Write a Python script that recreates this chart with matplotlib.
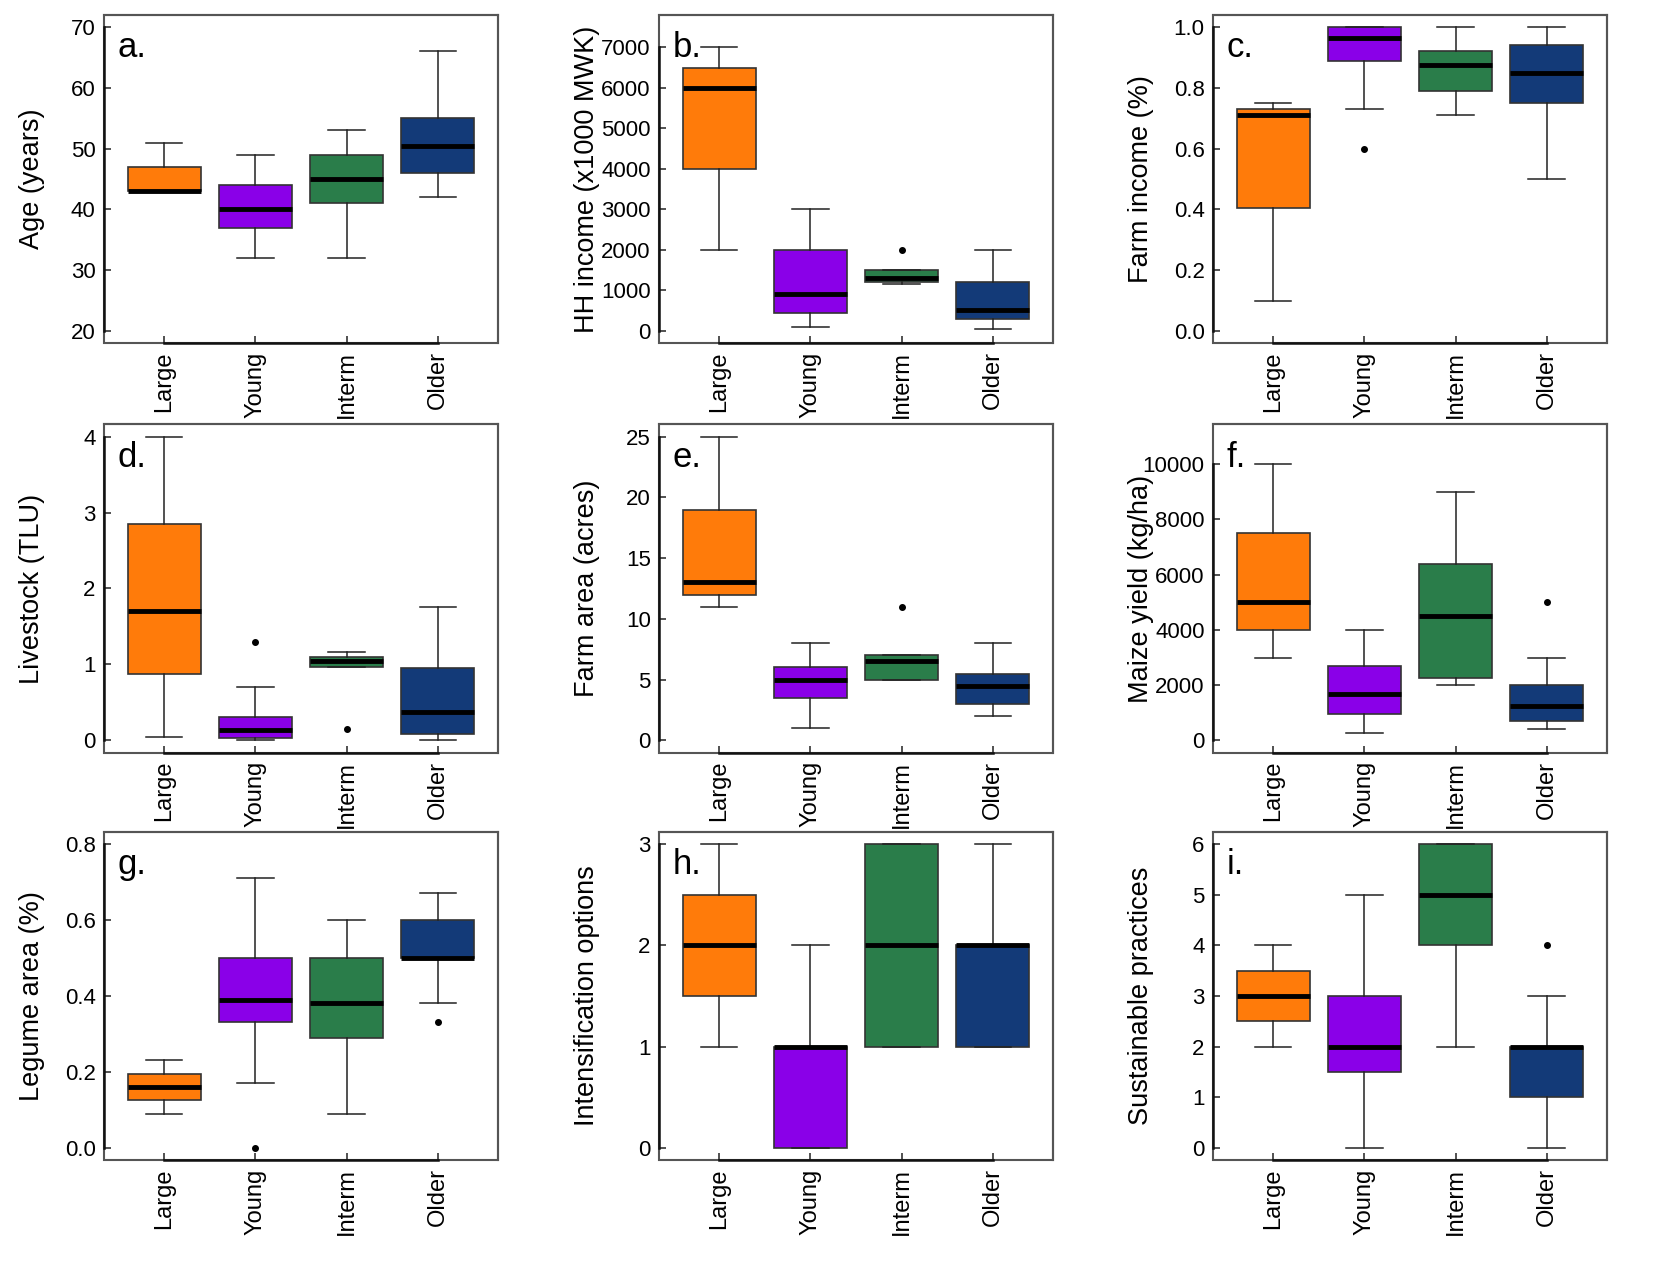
import matplotlib
matplotlib.use("Agg")
import matplotlib.pyplot as plt
import numpy as np

plt.rcParams['font.family'] = ['Liberation Sans', 'DejaVu Sans']

groups = ["Large", "Young", "Interm", "Older"]
colors = ["#FF7B0A", "#8A00E8", "#2A7D4A", "#133A78"]

# each row: whisker low, Q1, median, Q3, whisker high (per group)
age = [[43, 43, 43, 47, 51], [32, 37, 40, 44, 49], [32, 41, 45, 49, 53], [42, 46, 50.5, 55, 66]]
age_out = [[], [], [], []]
income = [[2000, 4000, 6000, 6500, 7000], [100, 450, 900, 2000, 3000],
          [1150, 1200, 1300, 1500, 1500], [50, 300, 520, 1200, 2000]]
income_out = [[], [], [2000], []]
farm_inc = [[0.10, 0.405, 0.71, 0.73, 0.75], [0.73, 0.89, 0.965, 1.0, 1.0],
            [0.71, 0.79, 0.875, 0.92, 1.0], [0.50, 0.75, 0.85, 0.94, 1.0]]
farm_inc_out = [[], [0.6], [], []]
livestock = [[0.05, 0.87, 1.70, 2.85, 4.0], [0.0, 0.03, 0.14, 0.31, 0.70],
             [0.97, 0.97, 1.05, 1.10, 1.17], [0.0, 0.08, 0.38, 0.95, 1.75]]
livestock_out = [[], [1.3], [0.15], []]
area = [[11, 12, 13, 19, 25], [1, 3.5, 5, 6, 8], [5, 5, 6.5, 7, 7], [2, 3, 4.5, 5.5, 8]]
area_out = [[], [], [11], []]
maize = [[3000, 4000, 5000, 7500, 10000], [250, 950, 1680, 2700, 4000],
         [2000, 2250, 4500, 6380, 9000], [400, 700, 1250, 2000, 3000]]
maize_out = [[], [], [], [5000]]
legume = [[0.09, 0.125, 0.16, 0.195, 0.23], [0.17, 0.33, 0.39, 0.50, 0.71],
          [0.09, 0.29, 0.38, 0.50, 0.60], [0.38, 0.50, 0.50, 0.60, 0.67]]
legume_out = [[], [0.0], [], [0.33]]
intens = [[1, 1.5, 2, 2.5, 3], [0, 0, 1, 1, 2], [1, 1, 2, 3, 3], [1, 1, 2, 2, 3]]
intens_out = [[], [], [], []]
sustain = [[2, 2.5, 3, 3.5, 4], [0, 1.5, 2, 3, 5], [2, 4, 5, 6, 6], [0, 1, 2, 2, 3]]
sustain_out = [[], [], [], [4]]

panels = [
    ("a.", "Age (years)", age, age_out, (20, 70), np.arange(20, 71, 10), "%d"),
    ("b.", "HH income (x1000 MWK)", income, income_out, (0, 7500), np.arange(0, 7001, 1000), "%d"),
    ("c.", "Farm income (%)", farm_inc, farm_inc_out, (0, 1), np.arange(0, 1.01, 0.2), "%.1f"),
    ("d.", "Livestock (TLU)", livestock, livestock_out, (0, 4), np.arange(0, 5, 1), "%d"),
    ("e.", "Farm area (acres)", area, area_out, (0, 25), np.arange(0, 26, 5), "%d"),
    ("f.", "Maize yield (kg/ha)", maize, maize_out, (0, 11000), np.arange(0, 10001, 2000), "%d"),
    ("g.", "Legume area (%)", legume, legume_out, (0, 0.8), np.arange(0, 0.81, 0.2), "%.1f"),
    ("h.", "Intensification options", intens, intens_out, (0, 3), np.arange(0, 4, 1), "%d"),
    ("i.", "Sustainable practices", sustain, sustain_out, (0, 6), np.arange(0, 7, 1), "%d"),
]

fig = plt.figure(figsize=(16.8, 12.8), dpi=100)
lefts = [0.0619, 0.3923, 0.7220]
bottoms = [0.732, 0.4121, 0.0938]
w, h = 0.2345, 0.2563
frame = "#555555"

for k, (letter, ylab, vals, outs, rng, ticks, fmt) in enumerate(panels):
    ax = fig.add_axes([lefts[k % 3], bottoms[k // 3], w, h])
    stats = []
    for v, o in zip(vals, outs):
        stats.append(dict(whislo=v[0], q1=v[1], med=v[2], q3=v[3], whishi=v[4], fliers=o))
    bp = ax.bxp(stats, positions=[1, 2, 3, 4], widths=0.8, patch_artist=True,
                boxprops=dict(edgecolor="#333333", linewidth=1.2),
                medianprops=dict(color="black", linewidth=3.5, solid_capstyle="butt"),
                whiskerprops=dict(color="#222222", linewidth=1.1),
                capprops=dict(color="#222222", linewidth=1.1),
                capwidths=0.4,
                flierprops=dict(marker="o", markersize=4, markerfacecolor="black",
                                markeredgecolor="black"))
    for patch, c in zip(bp["boxes"], colors):
        patch.set_facecolor(c)

    pad = (rng[1] - rng[0]) * 0.04
    ax.set_ylim(rng[0] - pad, rng[1] + pad)
    ax.set_xlim(0.34, 4.66)
    ax.set_yticks(ticks)
    ax.set_yticklabels([fmt % t for t in ticks])
    ax.set_xticks([1, 2, 3, 4])
    ax.set_xticklabels(groups, rotation=90)
    ax.tick_params(axis="both", direction="in", length=5, width=1.1, color="#222222")
    ax.tick_params(axis="y", pad=6, labelsize=16)
    ax.tick_params(axis="x", pad=6, labelsize=17)

    for s in ["top", "right"]:
        ax.spines[s].set_color(frame)
        ax.spines[s].set_linewidth(1.5)
    ax.patch.set_edgecolor(frame)
    ax.patch.set_linewidth(1.5)
    ax.spines["bottom"].set_bounds(1, 4)
    ax.spines["left"].set_bounds(ticks[0], ticks[-1])
    for s in ["bottom", "left"]:
        ax.spines[s].set_color("#111111")
        ax.spines[s].set_linewidth(1.8)

    ax.set_ylabel(ylab, fontsize=19.5, va="center")
    ax.yaxis.set_label_coords(-0.183, 0.5)
    ax.text(0.035, 0.9, letter, transform=ax.transAxes, fontsize=25, va="center", ha="left")

fig.savefig("out.png", dpi=100)
